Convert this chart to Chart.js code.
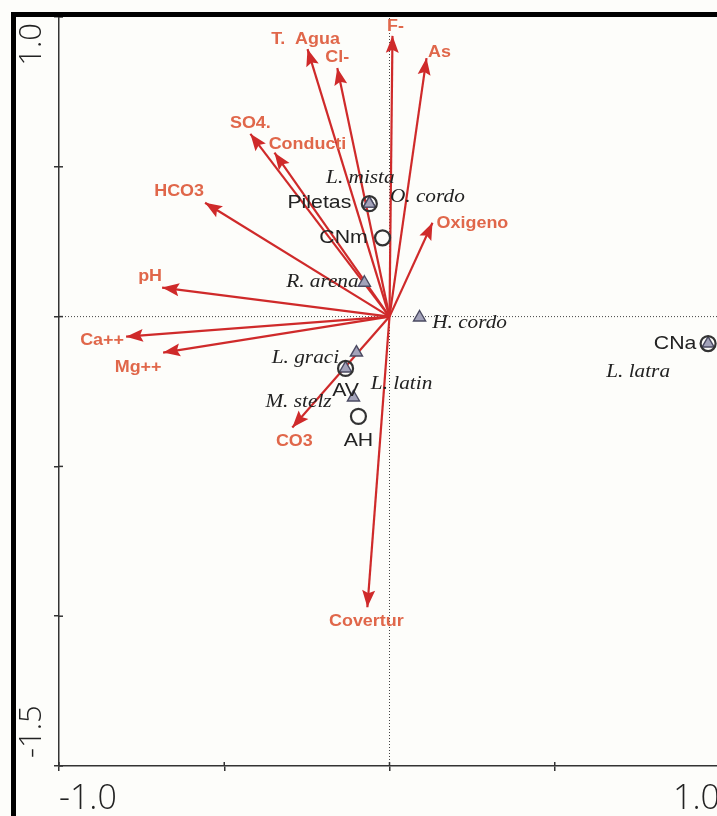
<!DOCTYPE html>
<html>
<head>
<meta charset="utf-8">
<script src="https://cdn.jsdelivr.net/npm/chart.js@4/dist/chart.umd.min.js"></script>
<style>
  html, body { margin: 0; padding: 0; background: #fdfdfa; overflow: hidden; }
  #wrap { position: relative; width: 717px; height: 816px; overflow: hidden; }
  #frame { position: absolute; left: 11px; top: 12px; width: 720px; height: 820px;
           border-left: 5px solid #000; border-top: 5px solid #000; pointer-events: none; }
  canvas { position: absolute; left: 0; top: 0; }
</style>
</head>
<body>
<div id="wrap">
  <canvas id="c" width="740" height="816"></canvas>
  <div id="frame"></div>
</div>
<script>
// Environmental variables (biplot arrows): axis 1 and axis 2 scores
const envNames = ['T.  Agua', 'Cl-', 'F-', 'As', 'SO4.', 'Conducti', 'HCO3', 'Oxigeno', 'pH', 'Ca++', 'Mg++', 'CO3', 'Covertur'];
const envX = [-0.248, -0.158, 0.009, 0.112, -0.421, -0.348, -0.558, 0.130, -0.688, -0.797, -0.685, -0.294, -0.067];
const envY = [0.893, 0.830, 0.937, 0.863, 0.610, 0.547, 0.380, 0.313, 0.097, -0.067, -0.120, -0.370, -0.970];

// Sampling sites
const siteNames = ['Piletas', 'CNm', 'AV', 'AH', 'CNa'];
const siteX = [-0.061, -0.021, -0.133, -0.094, 0.964];
const siteY = [0.377, 0.263, -0.173, -0.333, -0.090];

// Species
const speciesNames = ['L. mista', 'O. cordo', 'R. arena', 'H. cordo', 'L. graci', 'L. latin', 'M. stelz', 'L. latra'];
const speciesX = [-0.061, -0.061, -0.076, 0.091, -0.100, -0.133, -0.109, 0.964];
const speciesY = [0.377, 0.377, 0.113, -0.003, -0.120, -0.173, -0.270, -0.090];

// Axis ranges and labelled ticks
const xRange = [-1.0, 1.0];
const yRange = [-1.5, 1.0];
const xTickLabels = [-1.0, 1.0];
const yTickLabels = [1.0, -1.5];

// Label placement (pixel nudges from each mark)
const envLabelShift = {
  'T.  Agua': [-2, -9], 'Cl-': [0, -10], 'F-': [3, -9], 'As': [13, -5],
  'SO4.': [0, -10], 'Conducti': [33, -8], 'HCO3': [-26, -11], 'Oxigeno': [40, 1],
  'pH': [-12, -11], 'Ca++': [-24, 4], 'Mg++': [-25, 15], 'CO3': [2, 14], 'Covertur': [-1, 14]
};
const siteLabelShift = {
  'Piletas': [-50, -1], 'CNm': [-39, 0], 'AV': [0, 22], 'AH': [0, 24], 'CNa': [-33, 0]
};
const speciesLabelShift = {
  'L. mista': [-9, -26], 'O. cordo': [58, -7], 'R. arena': [-42, -1], 'H. cordo': [50, 6],
  'L. graci': [-51, 5], 'L. latin': [56, 16], 'M. stelz': [-55, 5], 'L. latra': [-70, 28]
};

const ARROW = '#cf2a2a';
const ENV_TEXT = '#e0674a';
const INK = '#222';
const TEXT_STRETCH = 1.12;

function stretchedText(ctx, text, x, y, font, color) {
  ctx.save();
  ctx.translate(x, y);
  ctx.scale(TEXT_STRETCH, 1);
  ctx.font = font;
  ctx.fillStyle = color;
  ctx.textAlign = 'center';
  ctx.textBaseline = 'middle';
  ctx.fillText(text, 0, 0);
  ctx.restore();
}

const datasets = [];

// Zero reference lines
datasets.push({
  type: 'line', data: [{x: 0, y: yRange[0]}, {x: 0, y: yRange[1]}],
  borderColor: '#444', borderWidth: 1, borderDash: [1, 2], pointRadius: 0, order: 5
});
datasets.push({
  type: 'line', data: [{x: xRange[0], y: 0}, {x: xRange[1], y: 0}],
  borderColor: '#444', borderWidth: 1, borderDash: [1, 2], pointRadius: 0, order: 5
});

// Arrow shafts from the origin
envNames.forEach((n, i) => {
  datasets.push({
    type: 'line', label: n, data: [{x: 0, y: 0}, {x: envX[i], y: envY[i]}],
    borderColor: ARROW, borderWidth: 2.2, pointRadius: 0, order: 4
  });
});

// Species triangles
datasets.push({
  type: 'scatter', label: 'species',
  data: speciesX.map((x, i) => ({x, y: speciesY[i]})),
  pointStyle: 'triangle', pointRadius: 7, backgroundColor: '#a3a3ba',
  borderColor: '#4b4b62', borderWidth: 1.4, order: 1
});

// Site circles
datasets.push({
  type: 'scatter', label: 'sites',
  data: siteX.map((x, i) => ({x, y: siteY[i]})),
  pointStyle: 'circle', pointRadius: 7.5, backgroundColor: 'rgba(0,0,0,0)',
  borderColor: '#333', borderWidth: 2.2, order: 0
});

const biplotDecor = {
  id: 'biplotDecor',
  afterDatasetsDraw(chart) {
    const ctx = chart.ctx;
    const xs = chart.scales.x, ys = chart.scales.y;
    const ox = xs.getPixelForValue(0), oy = ys.getPixelForValue(0);

    // arrowheads and variable names
    envNames.forEach((n, i) => {
      const tx = xs.getPixelForValue(envX[i]), ty = ys.getPixelForValue(envY[i]);
      const a = Math.atan2(ty - oy, tx - ox);
      const len = 17, hw = 6.5;
      ctx.save();
      ctx.translate(tx, ty);
      ctx.rotate(a);
      ctx.beginPath();
      ctx.moveTo(0, 0);
      ctx.lineTo(-len, -hw);
      ctx.lineTo(-len + 3, 0);
      ctx.lineTo(-len, hw);
      ctx.closePath();
      ctx.fillStyle = ARROW;
      ctx.fill();
      ctx.restore();
      const s = envLabelShift[n];
      stretchedText(ctx, n, tx + s[0], ty + s[1], 'bold 16px "Liberation Sans", Arial, sans-serif', ENV_TEXT);
    });

    siteNames.forEach((n, i) => {
      const px = xs.getPixelForValue(siteX[i]), py = ys.getPixelForValue(siteY[i]);
      const s = siteLabelShift[n];
      stretchedText(ctx, n, px + s[0], py + s[1], '19px "Liberation Sans", Arial, sans-serif', INK);
    });

    speciesNames.forEach((n, i) => {
      const px = xs.getPixelForValue(speciesX[i]), py = ys.getPixelForValue(speciesY[i]);
      const s = speciesLabelShift[n];
      stretchedText(ctx, n, px + s[0], py + s[1], 'italic 19px "Liberation Serif", "Times New Roman", serif', INK);
    });
  },
  afterDraw(chart) {
    const ctx = chart.ctx;
    const xs = chart.scales.x, ys = chart.scales.y;
    const area = chart.chartArea;

    // tick marks poking into the plot area
    ctx.save();
    ctx.strokeStyle = '#333';
    ctx.lineWidth = 1.5;
    xs.ticks.forEach(t => {
      const p = xs.getPixelForValue(t.value);
      ctx.beginPath(); ctx.moveTo(p, area.bottom); ctx.lineTo(p, area.bottom - 4); ctx.stroke();
    });
    ys.ticks.forEach(t => {
      const p = ys.getPixelForValue(t.value);
      ctx.beginPath(); ctx.moveTo(area.left, p); ctx.lineTo(area.left + 4, p); ctx.stroke();
    });
    ctx.restore();

    // rotated y-axis end labels, kept inside the axis span
    ctx.save();
    ctx.font = '300 31px "Open Sans", sans-serif';
    ctx.fillStyle = INK;
    ctx.textBaseline = 'middle';
    yTickLabels.forEach(v => {
      const p = ys.getPixelForValue(v);
      ctx.save();
      ctx.translate(32, v === yRange[1] ? p + 6 : p - 8);
      ctx.rotate(-Math.PI / 2);
      ctx.textAlign = v === yRange[1] ? 'right' : 'left';
      ctx.fillText(v.toFixed(1), 0, 0);
      ctx.restore();
    });
    ctx.restore();
  }
};

new Chart(document.getElementById('c'), {
  type: 'scatter',
  data: { datasets },
  options: {
    responsive: false,
    animation: false,
    events: [],
    layout: { autoPadding: false, padding: { top: 17, right: 20, left: 0, bottom: 0 } },
    plugins: { legend: { display: false }, tooltip: { enabled: false } },
    scales: {
      x: {
        type: 'linear', min: xRange[0], max: xRange[1],
        afterFit(scale) { scale.height = 50; },
        border: { display: true, color: '#333', width: 1.5 },
        grid: { drawOnChartArea: false, drawTicks: true, tickLength: 5, color: '#333', lineWidth: 1.5 },
        ticks: {
          stepSize: 0.5, align: 'inner', padding: 8, color: INK, maxRotation: 0,
          font: { family: '"Open Sans", sans-serif', size: 34, weight: '300' },
          callback: v => xTickLabels.includes(v) ? v.toFixed(1) : ''
        }
      },
      y: {
        type: 'linear', min: yRange[0], max: yRange[1],
        afterFit(scale) { scale.width = 59; },
        border: { display: true, color: '#333', width: 1.5 },
        grid: { drawOnChartArea: false, drawTicks: true, tickLength: 5, color: '#333', lineWidth: 1.5 },
        ticks: { stepSize: 0.5, display: false }
      }
    }
  },
  plugins: [biplotDecor]
});
</script>
</body>
</html>
